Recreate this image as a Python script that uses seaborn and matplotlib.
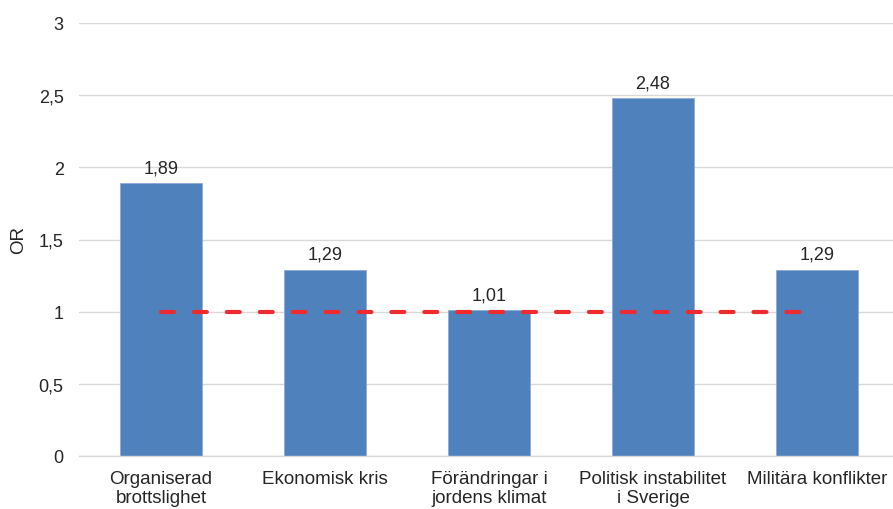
import numpy as np
import pandas as pd
import matplotlib
matplotlib.use("Agg")
import matplotlib.pyplot as plt
import seaborn as sns

# Daten
kategorien = ["Organiserad\nbrottslighet", "Ekonomisk kris", "Förändringar i\njordens klimat",
              "Politisk instabilitet\ni Sverige", "Militära konflikter"]
or_werte = [1.89, 1.29, 1.01, 2.48, 1.29]
referenz = [1, 1, 1, 1, 1]
y_ticks = [0, 0.5, 1, 1.5, 2, 2.5, 3]

sns.set_theme(style="white")
plt.rcParams['font.family'] = ['Liberation Sans', 'DejaVu Sans']

df = pd.DataFrame({"kategorie": kategorien, "OR": or_werte})

fig = plt.figure(figsize=(8.93, 5.10), dpi=100)
ax = fig.add_axes([79 / 893, 53 / 510, 820 / 893, 433 / 510])

ax.set_axisbelow(True)
ax.yaxis.grid(True, color="#D9D9D9", linewidth=1)
sns.barplot(data=df, x="kategorie", y="OR", color="#4F81BD", saturation=1,
            width=0.5, ax=ax, edgecolor="#8EAAD6", linewidth=0.6)

# Referenzlinie OR = 1
ax.plot(range(len(referenz)), referenz, color="#EE2B2E", linewidth=3,
        dashes=(3.1, 4.8), dash_capstyle="round", zorder=3)

ax.bar_label(ax.containers[0], labels=[f"{v:.2f}".replace(".", ",") for v in or_werte],
             padding=5, fontsize=13, color="#262626")

ax.set_xlim(-0.5, 4.5)
ax.set_ylim(0, 3)
ax.set_yticks(y_ticks)
ax.set_yticklabels([f"{t:g}".replace(".", ",") for t in y_ticks], fontsize=13, color="#262626")
ax.tick_params(axis="y", length=0, pad=11)
ax.tick_params(axis="x", length=0, pad=10, labelsize=13.5, labelcolor="#262626")
ax.set_xlabel("")
ax.set_ylabel("OR", fontsize=13.5, color="#262626", labelpad=8)

for s in ["top", "right", "left"]:
    ax.spines[s].set_visible(False)
ax.spines["bottom"].set_color("#D9D9D9")
ax.spines["bottom"].set_linewidth(1)

fig.savefig("out.png", dpi=100)
